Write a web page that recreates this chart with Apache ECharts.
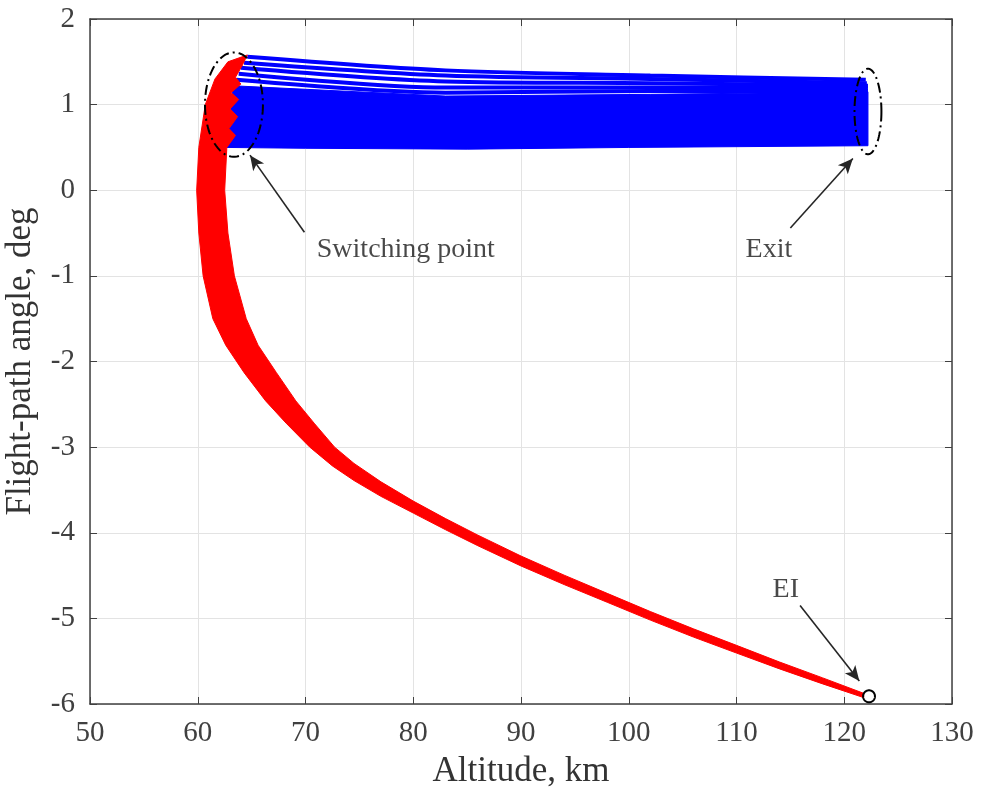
<!DOCTYPE html>
<html>
<head>
<meta charset="utf-8">
<script src="https://cdn.jsdelivr.net/npm/echarts@6/dist/echarts.min.js"></script>
<style>html,body{margin:0;padding:0;background:#fff}#main{width:985px;height:789px}</style>
</head>
<body>
<div id="main"></div>
<script>
// axis ticks
const xTicks = [50, 60, 70, 80, 90, 100, 110, 120, 130]
const yTicks = [-6, -5, -4, -3, -2, -1, 0, 1, 2]

// red band (entry to switching point), outer / lower-left edge, from EI upward
const redOuterAlt = [121.8, 118, 114, 110, 106, 102, 98, 94, 90, 86, 83, 80, 77, 74.5, 72.5, 70.4, 68.2, 66.3, 64.3, 62.6, 61.4, 60.5, 60.1, 59.9, 60.1, 60.7, 61.6, 62.8, 64.6]
const redOuterGam = [-5.925, -5.765, -5.59, -5.405, -5.218, -5.02, -4.812, -4.605, -4.388, -4.152, -3.965, -3.77, -3.575, -3.39, -3.22, -3.00, -2.72, -2.46, -2.13, -1.81, -1.50, -1.00, -0.50, 0.00, 0.50, 1.00, 1.30, 1.50, 1.58]
// inner / upper-right edge, from EI upward (spiky near the switching point)
const redInnerAlt = [121.8, 118, 114, 110, 106, 102, 98, 94, 90, 86, 83, 80, 77, 74.5, 72.7, 70.8, 69.1, 67.3, 65.6, 64.5, 63.4, 62.8, 62.5, 62.7, 63.5, 62.9, 63.7, 63.0, 63.8, 63.1, 64.0, 63.5, 64.1, 64.6]
const redInnerGam = [-5.875, -5.695, -5.51, -5.315, -5.122, -4.92, -4.708, -4.495, -4.272, -4.028, -3.835, -3.63, -3.405, -3.19, -3.00, -2.72, -2.46, -2.13, -1.81, -1.50, -1.00, -0.50, 0.00, 0.50, 0.64, 0.72, 0.86, 0.95, 1.06, 1.14, 1.24, 1.32, 1.45, 1.58]

// blue band (exit phase), solid part
const blueLowAlt = [62.7, 70, 85, 100, 122.2]
const blueLowGam = [0.50, 0.49, 0.48, 0.50, 0.52]
const blueTopAlt = [63.3, 83, 102, 122.2]
const blueTopGam = [1.22, 1.10, 1.12, 1.15]

// upper blue trajectories
const blueLine1 = [[64.6, 1.56], [83, 1.40], [102, 1.34], [122.0, 1.29]]
const blueLine2 = [[64.3, 1.49], [83, 1.34], [102, 1.30], [122.1, 1.25]]
const blueLine3 = [[64.0, 1.43], [83, 1.27], [102, 1.25], [122.2, 1.22]]
const blueLine4 = [[63.8, 1.36], [83, 1.20], [102, 1.20], [122.2, 1.19]]
const blueLine5 = [[63.6, 1.29], [83, 1.14], [102, 1.16], [122.2, 1.16]]

// annotations
const noteNames = ['Switching point', 'Exit', 'EI']
const notePos = [[71.0, -0.69], [110.8, -0.69], [113.3, -4.67]]
const arrowFrom = [[69.9, -0.49], [115.0, -0.44], [115.9, -4.85]]
const arrowTo = [[64.85, 0.41], [120.8, 0.37], [121.4, -5.73]]
const ellipses = [[63.36, 1.0, 2.69, 0.61], [122.2, 0.92, 1.25, 0.50], [122.3, -5.91, 0.55, 0.07]]

const font = 'Liberation Serif'
let chart = echarts.init(document.getElementById('main'))

function bandItem(lowAlt, lowGam, topAlt, topGam, color){
    return function(params, api){
        let pts = []
        for (let i = 0; i < lowAlt.length; i++) pts.push(api.coord([lowAlt[i], lowGam[i]]))
        for (let i = topAlt.length - 1; i >= 0; i--) pts.push(api.coord([topAlt[i], topGam[i]]))
        return {type: 'polygon', shape: {points: pts}, style: {fill: color, stroke: color, lineWidth: 1}}
    }
}

const blueLines = [blueLine1, blueLine2, blueLine3, blueLine4, blueLine5].map(function(d){
    return {
        type: 'line', data: d, showSymbol: false, smooth: 0.3, z: 3,
        lineStyle: {color: '#0000ff', width: 4}
    }
})

const axisLine = {show: true, onZero: false, lineStyle: {color: '#404040', width: 1.5}}
const axisTick = {inside: true, length: 7, lineStyle: {color: '#404040', width: 1}}

chart.setOption({
    animation: false,
    backgroundColor: '#fff',
    grid: {left: 90, right: 33, top: 19, bottom: 85, outerBoundsMode: 'none'},
    xAxis: [{
        type: 'value', min: xTicks[0], max: xTicks[xTicks.length - 1], interval: 10, position: 'bottom',
        name: 'Altitude, km', nameLocation: 'middle', nameGap: 50,
        nameTextStyle: {fontFamily: font, fontSize: 35, color: '#333'},
        axisLine: axisLine, axisTick: axisTick,
        axisLabel: {fontFamily: font, fontSize: 29, color: '#404040', margin: 15},
        splitLine: {show: true, lineStyle: {color: '#e3e3e3', width: 1}}
    }, {
        type: 'value', min: xTicks[0], max: xTicks[xTicks.length - 1], interval: 10, position: 'top',
        axisLine: axisLine, axisTick: axisTick,
        axisLabel: {show: false}, splitLine: {show: false}
    }],
    yAxis: [{
        type: 'value', min: yTicks[0], max: yTicks[yTicks.length - 1], interval: 1, position: 'left',
        name: 'Flight-path angle, deg', nameLocation: 'middle', nameGap: 52,
        nameTextStyle: {fontFamily: font, fontSize: 35, color: '#333'},
        axisLine: axisLine, axisTick: axisTick,
        axisLabel: {fontFamily: font, fontSize: 29, color: '#404040', margin: 15},
        splitLine: {show: true, lineStyle: {color: '#e3e3e3', width: 1}}
    }, {
        type: 'value', min: yTicks[0], max: yTicks[yTicks.length - 1], interval: 1, position: 'right',
        axisLine: axisLine, axisTick: axisTick,
        axisLabel: {show: false}, splitLine: {show: false}
    }],
    series: [{
        type: 'custom', z: 2, data: [[blueLowAlt[0], blueLowGam[0]]],
        renderItem: bandItem(blueLowAlt, blueLowGam, blueTopAlt, blueTopGam, '#0000ff')
    }].concat(blueLines).concat([{
        type: 'custom', z: 4, data: [[redOuterAlt[0], redOuterGam[0]]],
        renderItem: bandItem(redOuterAlt, redOuterGam, redInnerAlt, redInnerGam, '#ff0000')
    }, {
        type: 'custom', z: 5, data: ellipses,
        renderItem: function(params, api){
            let c = api.coord([api.value(0), api.value(1)])
            let s = api.size([api.value(2), api.value(3)])
            let pts = []
            for (let k = 0; k <= 90; k++){
                let a = k / 90 * 2 * Math.PI
                pts.push([c[0] + s[0] * Math.cos(a), c[1] + s[1] * Math.sin(a)])
            }
            let dash = params.dataIndex === 2 ? null : [10, 4, 2, 4]
            return {type: 'polyline', shape: {points: pts},
                style: {fill: null, stroke: '#000', lineWidth: 2, lineDash: dash}}
        }
    }, {
        type: 'scatter', z: 6, symbolSize: 1,
        itemStyle: {color: 'rgba(0,0,0,0)'},
        data: noteNames.map(function(n, i){ return {name: n, value: notePos[i]} }),
        label: {show: true, position: 'right', distance: 0, formatter: '{b}',
            fontFamily: font, fontSize: 28, color: '#1a1a1a'},
        markLine: {
            silent: true, symbol: ['none', 'arrow'], symbolSize: [10, 15],
            lineStyle: {color: '#262626', width: 1.6, type: 'solid'},
            label: {show: false},
            data: arrowFrom.map(function(p, i){ return [{coord: p}, {coord: arrowTo[i]}] })
        }
    }])
})
</script>
</body>
</html>
